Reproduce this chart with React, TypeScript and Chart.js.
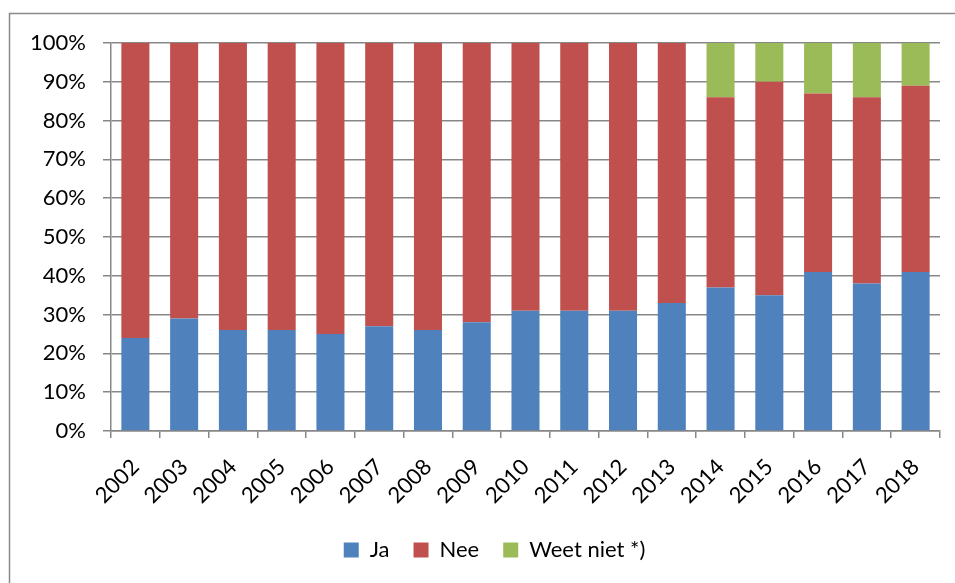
import React, { useEffect, useRef } from 'react';
import { Chart, registerables } from 'chart.js';

Chart.register(...registerables);

const years = ['2002', '2003', '2004', '2005', '2006', '2007', '2008', '2009', '2010', '2011', '2012', '2013', '2014', '2015', '2016', '2017', '2018'];
const ja = [24, 29, 26, 26, 25, 27, 26, 28, 31, 31, 31, 33, 37, 35, 41, 38, 41];
const nee = [76, 71, 74, 74, 75, 73, 74, 72, 69, 69, 69, 67, 49, 55, 46, 48, 48];
const weetNiet = [null, null, null, null, null, null, null, null, null, null, null, null, 14, 10, 13, 14, 11];
const seriesNames = ['Ja', 'Nee', 'Weet niet *)'];
const seriesColors = ['#4F81BD', '#C0504D', '#9BBB59'];
const yTickStep = 10;
const yMax = 100;

const FONT = 'Lato, "Open Sans", sans-serif';
const GRID = '#878787';

const framePlugin = {
  id: 'frame',
  afterLayout(chart: any) {
    if (chart.legend) chart.legend.left = 49;
  },
  beforeDraw(chart: any) {
    const ctx = chart.ctx;
    ctx.save();
    ctx.strokeStyle = '#8a8a8a';
    ctx.lineWidth = 1.5;
    ctx.beginPath();
    ctx.moveTo(9.5, 2000);
    ctx.lineTo(9.5, 13.5);
    ctx.lineTo(2000, 13.5);
    ctx.stroke();
    ctx.restore();
  },
};

export default function App() {
  const ref = useRef<HTMLCanvasElement>(null);
  useEffect(() => {
    if (!ref.current) return;
    const data = [ja, nee, weetNiet];
    const chart = new Chart(ref.current, {
      type: 'bar',
      data: {
        labels: years,
        datasets: seriesNames.map((name, i) => ({
          label: name,
          data: data[i] as any,
          backgroundColor: seriesColors[i],
          borderWidth: 0,
          barPercentage: 0.575,
          categoryPercentage: 1,
        })),
      },
      plugins: [framePlugin],
      options: {
        responsive: false,
        animation: false,
        layout: { padding: { top: 43, right: 15, left: 0, bottom: 12 } },
        plugins: {
          tooltip: { enabled: false },
          legend: {
            position: 'bottom',
            labels: {
              boxWidth: 15,
              boxHeight: 15,
              padding: 24,
              color: '#000',
              font: { family: FONT, size: 22 },
            },
          },
        },
        scales: {
          x: {
            stacked: true,
            afterFit: (s: any) => { s.height = 84; },
            grid: { display: true, drawOnChartArea: false, offset: true, tickLength: 7, color: GRID, lineWidth: 1.5 },
            border: { color: GRID, width: 1.5 },
            ticks: { minRotation: 45, maxRotation: 45, color: '#000', padding: 16, font: { family: FONT, size: 22 }, autoSkip: false },
          },
          y: {
            stacked: true,
            min: 0,
            max: yMax,
            afterFit: (s: any) => { s.width = 111; },
            grid: { color: GRID, lineWidth: 1.5, tickLength: 8 },
            border: { color: GRID, width: 1.5 },
            ticks: {
              stepSize: yTickStep,
              padding: 17,
              color: '#000',
              font: { family: FONT, size: 22 },
              callback: (v: any) => v + '%',
            },
          },
        },
      },
    });
    return () => chart.destroy();
  }, []);
  return (
    <div style={{ position: 'fixed', left: 0, top: 0, width: 955, height: 583, background: '#fff' }}>
      <canvas ref={ref} width={955} height={583} style={{ width: 955, height: 583 }} />
    </div>
  );
}
